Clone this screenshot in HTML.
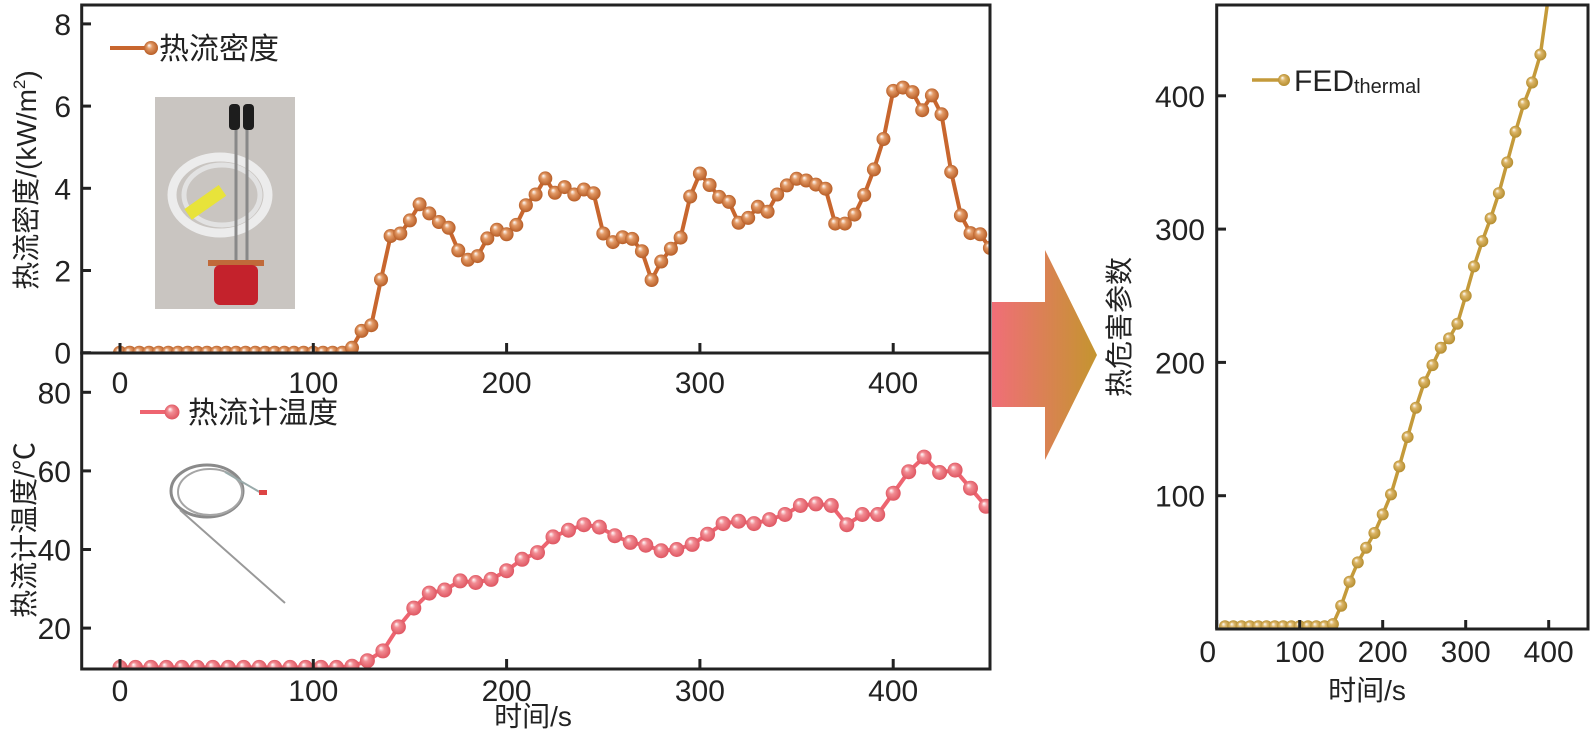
<!DOCTYPE html>
<html><head><meta charset="utf-8">
<style>
html,body{margin:0;padding:0;background:#fff;}
svg{display:block;font-family:"Liberation Sans","Noto Sans CJK SC",sans-serif;}
</style></head>
<body>
<svg id="fig" width="1591" height="743" viewBox="0 0 1591 743">
<defs>
  <radialGradient id="gOr" cx="50%" cy="50%" r="55%" fx="35%" fy="30%"><stop offset="0" stop-color="#fff"/><stop offset="0.35" stop-color="#e39a66"/><stop offset="1" stop-color="#b2561f"/></radialGradient>
  <radialGradient id="gPk" cx="50%" cy="50%" r="55%" fx="35%" fy="30%"><stop offset="0" stop-color="#fff"/><stop offset="0.35" stop-color="#f28c93"/><stop offset="1" stop-color="#dc4f5b"/></radialGradient>
  <radialGradient id="gGd" cx="50%" cy="50%" r="55%" fx="35%" fy="30%"><stop offset="0" stop-color="#fff"/><stop offset="0.35" stop-color="#dcb668"/><stop offset="1" stop-color="#b08828"/></radialGradient>
  <linearGradient id="arrowGrad" x1="0" x2="1" y1="0" y2="0"><stop offset="0" stop-color="#f06e78"/><stop offset="1" stop-color="#c4952f"/></linearGradient>
  <clipPath id="clipTop"><rect x="81.7" y="5" width="908.3" height="347.7"/></clipPath>
  <clipPath id="clipBot"><rect x="81.7" y="353" width="908.3" height="316"/></clipPath>
  <clipPath id="clipRight"><rect x="1216.7" y="5" width="371.3" height="624"/></clipPath>
</defs>

<g>
  <rect x="155" y="97" width="140" height="212" fill="#c9c5c1"/>
  <rect x="229" y="104" width="11" height="26" rx="4" fill="#1d1d1d"/>
  <rect x="243" y="104" width="11" height="26" rx="4" fill="#1d1d1d"/>
  <ellipse cx="220" cy="195" rx="48" ry="38" fill="none" stroke="#ececec" stroke-width="9"/>
  <ellipse cx="222" cy="195" rx="38" ry="30" fill="none" stroke="#e2e2e2" stroke-width="5"/>
  <line x1="236" y1="130" x2="236" y2="262" stroke="#888" stroke-width="3"/>
  <line x1="247" y1="130" x2="247" y2="262" stroke="#888" stroke-width="3"/>
  <rect x="184" y="196" width="42" height="13" fill="#e8e33a" transform="rotate(-35 205 202)"/>
  <rect x="208" y="260" width="56" height="6" fill="#c06a3a"/>
  <rect x="214" y="265" width="44" height="40" rx="6" fill="#c4222c"/>
</g>
<g>
  <ellipse cx="207" cy="491" rx="36" ry="26" fill="none" stroke="#8a8a8a" stroke-width="3"/>
  <ellipse cx="210" cy="492" rx="32" ry="23" fill="none" stroke="#a5a5a5" stroke-width="2"/>
  <line x1="180" y1="510" x2="285" y2="603" stroke="#999" stroke-width="2"/>
  <line x1="225" y1="472" x2="263" y2="494" stroke="#9aa" stroke-width="2"/>
  <rect x="259" y="490" width="8" height="5" fill="#d44"/>
</g>

<polygon points="992,302 1045,302 1045,250 1097,355 1045,460 1045,407 992,407" fill="url(#arrowGrad)"/>

<g id="marks"></g>

<rect x="81.7" y="5" width="908.3" height="348" fill="none" stroke="#222" stroke-width="3"/>
<rect x="81.7" y="353" width="908.3" height="316" fill="none" stroke="#222" stroke-width="3"/>
<rect x="1216.7" y="5" width="371.3" height="624" fill="none" stroke="#222" stroke-width="3"/>

<g id="ticks" fill="#222" font-size="30"></g>

<text transform="translate(36,180) rotate(-90)" text-anchor="middle" font-size="28" fill="#222">热流密度/(kW/m<tspan font-size="17" dy="-11">2</tspan><tspan dy="11">)</tspan></text>
<text transform="translate(34,530) rotate(-90)" text-anchor="middle" font-size="28" fill="#222">热流计温度/℃</text>
<text x="533" y="726" text-anchor="middle" font-size="28" fill="#222">时间/s</text>
<text x="1367" y="700" text-anchor="middle" font-size="28" fill="#222">时间/s</text>
<text transform="translate(1129,327) rotate(-90)" text-anchor="middle" font-size="28" fill="#222">热危害参数</text>

<g>
  <line x1="110" y1="48" x2="146" y2="48" stroke="#c8662e" stroke-width="4"/>
  <circle cx="151" cy="48" r="7" fill="url(#gOr)"/>
  <text x="159" y="59" font-size="30" fill="#222">热流密度</text>
</g>
<g>
  <line x1="140" y1="412" x2="166" y2="412" stroke="#ee6470" stroke-width="4"/>
  <circle cx="172" cy="412" r="7.5" fill="url(#gPk)"/>
  <text x="188" y="423" font-size="30" fill="#222">热流计温度</text>
</g>
<g>
  <line x1="1252" y1="80" x2="1280" y2="80" stroke="#c49a3a" stroke-width="3.5"/>
  <circle cx="1284" cy="80" r="6" fill="url(#gGd)"/>
  <text x="1294" y="91" font-size="30" fill="#222">FED<tspan font-size="20" dy="2">thermal</tspan></text>
</g>
</svg>

<script>
const fluxTimes = [0,5,10,15,20,25,30,35,40,45,50,55,60,65,70,75,80,85,90,95,100,105,110,115,120,125,130,135,140,145,150,155,160,165,170,175,180,185,190,195,200,205,210,215,220,225,230,235,240,245,250,255,260,265,270,275,280,285,290,295,300,305,310,315,320,325,330,335,340,345,350,355,360,365,370,375,380,385,390,395,400,405,410,415,420,425,430,435,440,445,450];
const fluxValues = [0,0,0,0,0,0,0,0,0,0,0,0,0,0,0,0,0,0,0,0,0,0,0,0,0.12,0.53,0.67,1.78,2.84,2.9,3.22,3.61,3.39,3.18,3.04,2.49,2.26,2.35,2.78,2.99,2.88,3.11,3.59,3.85,4.24,3.89,4.03,3.85,3.97,3.88,2.9,2.69,2.81,2.77,2.47,1.77,2.22,2.53,2.8,3.8,4.36,4.08,3.79,3.67,3.16,3.28,3.55,3.43,3.85,4.07,4.23,4.19,4.09,3.99,3.14,3.14,3.36,3.84,4.46,5.2,6.37,6.45,6.34,5.9,6.26,5.8,4.4,3.34,2.91,2.88,2.55];
const tempTimes = [0,8,16,24,32,40,48,56,64,72,80,88,96,104,112,120,128,136,144,152,160,168,176,184,192,200,208,216,224,232,240,248,256,264,272,280,288,296,304,312,320,328,336,344,352,360,368,376,384,392,400,408,416,424,432,440,448];
const tempValues = [10,10,10,10,10,10,10,10,10,10,10,10,10,10,10,10.3,11.7,14.2,20.3,25.1,28.9,29.7,32,31.6,32.4,34.6,37.5,39.2,43.2,44.9,46.3,45.7,43.5,41.8,41.1,39.7,40,41.3,43.9,46.6,47.2,46.6,47.6,48.9,51.2,51.6,51.2,46.3,48.9,48.9,54.3,59.8,63.5,59.6,60.2,55.6,51];
const fedTimes = [10,20,30,40,50,60,70,80,90,100,110,120,130,140,150,160,170,180,190,200,210,220,230,240,250,260,270,280,290,300,310,320,330,340,350,360,370,380,390,400];
const fedValues = [2,2,2,2,2,2,2,2,2,2,2,2,2,3.7,17.5,35.4,50,61,72,86,101,122,144,166,185,198,211,218,229,250,272,291,308,327,350,373,394,410,431,476];
const xTicks = [0,100,200,300,400];
const topYTicks = [0,2,4,6,8];
const botYTicks = [20,40,60,80];
const rightYTicks = [100,200,300,400];

const xMain = t => 120 + t*1.933;
const yTop = v => 352.7 - v*41.1;
const yBot = v => 392.3 - (v-80)*3.93;
const xR = t => 1216.7 + t*0.83;
const yR = v => 629 - v*1.333;

const NS = "http://www.w3.org/2000/svg";
const marks = document.getElementById('marks');
const ticks = document.getElementById('ticks');
function mk(tag, attrs, parent){const e=document.createElementNS(NS,tag);for(const k in attrs)e.setAttribute(k,attrs[k]);parent.appendChild(e);return e;}

function series(xs, ys, fx, fy, color, grad, r, sw, clip, name){
  const g = mk('g',{'clip-path':'url(#'+clip+')'},marks);
  
  
  const pts = xs.map((t,i)=>fx(t).toFixed(1)+','+fy(ys[i]).toFixed(1)).join(' ');
  const pl = mk('polyline',{points:pts,fill:'none',stroke:color,'stroke-width':sw,'stroke-linejoin':'round'},g);
  
  
  xs.forEach((t,i)=>{
    const c = mk('circle',{cx:fx(t).toFixed(1),cy:fy(ys[i]).toFixed(1),r:r,fill:'url(#'+grad+')'},g);
    
    
  });
}
series(fluxTimes, fluxValues, xMain, yTop, '#c8662e', 'gOr', 7, 4, 'clipTop', 'heat-flux-series');
series(tempTimes, tempValues, xMain, yBot, '#ee6470', 'gPk', 7.5, 4, 'clipBot', 'sensor-temperature-series');
series(fedTimes, fedValues, xR, yR, '#c49a3a', 'gGd', 6, 3.5, 'clipRight', 'fed-thermal-series');

function label(x,y,txt,anchor,name){
  const t = mk('text',{x:x,y:y,'text-anchor':anchor},ticks);
  t.textContent = txt;
  
  
}
function tick(x1,y1,x2,y2,name){
  const l = mk('line',{x1:x1,y1:y1,x2:x2,y2:y2,stroke:'#222','stroke-width':3},ticks);
  
  
}
xTicks.forEach(v=>{
  const x = xMain(v);
  tick(x,353,x,343,'top-x-tick');
  label(x,393,v,'middle','top-x-tick-label');
  tick(x,669,x,659,'bottom-x-tick');
  label(x,701,v,'middle','bottom-x-tick-label');
  const xr = xR(v);
  tick(xr,629,xr,620,'right-x-tick');
  label(v===0?xr-9:xr,662,v,'middle','right-x-tick-label');
});
topYTicks.forEach(v=>{
  const y=yTop(v);
  tick(81.7,y,91,y,'top-y-tick');
  label(71,y+11,v,'end','top-y-tick-label');
});
botYTicks.forEach(v=>{
  const y=yBot(v);
  tick(81.7,y,91,y,'bottom-y-tick');
  label(71,y+11,v,'end','bottom-y-tick-label');
});
rightYTicks.forEach(v=>{
  const y=yR(v);
  tick(1216.7,y,1226,y,'right-y-tick');
  label(1205,y+11,v,'end','right-y-tick-label');
});
</script>
</body></html>
